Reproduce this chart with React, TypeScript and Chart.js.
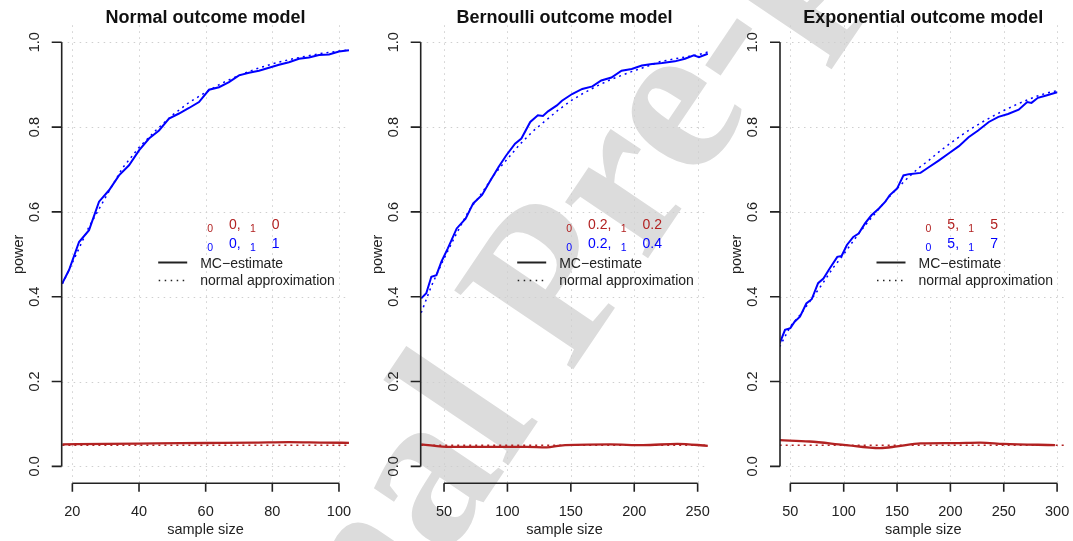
import React, { useEffect, useRef } from "react";
import { Chart, registerables } from "chart.js";
Chart.register(...registerables);

const W = 1073;
const H = 541;

// ---------- Normal outcome model ----------
const normalN = [17, 19, 22, 25, 28, 31, 34, 37, 40, 43, 46, 49, 52, 55, 58, 61, 64, 67, 70, 73, 76, 79, 82, 85, 88, 91, 94, 97, 100, 103];
const normalMC = [0.432, 0.463, 0.529, 0.557, 0.624, 0.651, 0.686, 0.71, 0.745, 0.773, 0.792, 0.82, 0.832, 0.845, 0.859, 0.888, 0.894, 0.906, 0.922, 0.928, 0.933, 0.94, 0.947, 0.953, 0.961, 0.964, 0.97, 0.971, 0.978, 0.981];
const normalApproxN = [17, 20, 25, 30, 35, 40, 45, 50, 55, 60, 65, 70, 75, 80, 85, 90, 95, 100, 103];
const normalApprox = [0.43, 0.48, 0.565, 0.635, 0.703, 0.752, 0.792, 0.828, 0.858, 0.882, 0.904, 0.922, 0.937, 0.949, 0.959, 0.967, 0.974, 0.979, 0.982];
const normalNullN = [17, 30, 45, 60, 75, 85, 95, 103];
const normalNullMC = [0.052, 0.053, 0.054, 0.055, 0.056, 0.057, 0.056, 0.0555];
const normalNullApproxN = [17, 103];
const normalNullApprox = [0.05, 0.05];
const normalTicks = [20, 40, 60, 80, 100];
const normalTickLabels = ["20", "40", "60", "80", "100"];

// ---------- Bernoulli outcome model ----------
const bernN = [32, 36, 40, 44, 48, 53, 60, 67, 73, 80, 86, 93, 99, 106, 111, 118, 124, 128, 132, 139, 143, 151, 159, 167, 174, 182, 190, 198, 206, 214, 222, 232, 240, 247, 251, 258];
const bernMC = [0.396, 0.408, 0.447, 0.451, 0.483, 0.514, 0.561, 0.584, 0.62, 0.64, 0.671, 0.706, 0.733, 0.761, 0.773, 0.812, 0.828, 0.826, 0.837, 0.851, 0.862, 0.878, 0.89, 0.896, 0.91, 0.917, 0.933, 0.937, 0.945, 0.949, 0.951, 0.955, 0.961, 0.969, 0.965, 0.973];
const bernApproxN = [32, 40, 50, 60, 70, 80, 90, 100, 110, 120, 130, 140, 150, 160, 170, 180, 190, 200, 210, 220, 230, 240, 250, 258];
const bernApprox = [0.362, 0.425, 0.49, 0.55, 0.605, 0.645, 0.69, 0.725, 0.76, 0.79, 0.815, 0.84, 0.862, 0.88, 0.896, 0.91, 0.922, 0.933, 0.943, 0.954, 0.96, 0.965, 0.97, 0.977];
const bernNullN = [32, 55, 80, 115, 131, 142, 181, 207, 234, 258];
const bernNullMC = [0.052, 0.046, 0.046, 0.046, 0.0445, 0.049, 0.0516, 0.05, 0.053, 0.0484];
const bernNullApproxN = [32, 258];
const bernNullApprox = [0.05, 0.05];
const bernTicks = [50, 100, 150, 200, 250];
const bernTickLabels = ["50", "100", "150", "200", "250"];

// ---------- Exponential outcome model ----------
const expN = [40, 45, 50, 54, 59, 65, 70, 76, 81, 87, 94, 98, 103, 109, 114, 120, 126, 133, 139, 143, 150, 156, 161, 172, 179, 189, 198, 208, 217, 226, 236, 245, 254, 264, 272, 276, 282, 289, 300];
const expMC = [0.29, 0.322, 0.326, 0.341, 0.353, 0.384, 0.394, 0.432, 0.443, 0.467, 0.494, 0.496, 0.522, 0.541, 0.549, 0.573, 0.592, 0.608, 0.624, 0.639, 0.655, 0.686, 0.689, 0.692, 0.704, 0.721, 0.737, 0.755, 0.776, 0.792, 0.812, 0.824, 0.831, 0.841, 0.859, 0.857, 0.869, 0.874, 0.882];
const expApproxN = [40, 50, 60, 70, 80, 90, 100, 110, 120, 130, 140, 150, 160, 170, 180, 190, 200, 210, 220, 230, 240, 250, 260, 270, 280, 290, 300];
const expApprox = [0.282, 0.33, 0.36, 0.395, 0.43, 0.468, 0.5, 0.535, 0.568, 0.598, 0.628, 0.655, 0.68, 0.703, 0.722, 0.743, 0.762, 0.78, 0.797, 0.812, 0.826, 0.839, 0.851, 0.862, 0.872, 0.88, 0.886];
const expNullN = [40, 68, 100, 134, 150, 172, 203, 228, 250, 298];
const expNullMC = [0.0618, 0.0586, 0.0508, 0.043, 0.047, 0.054, 0.0547, 0.056, 0.053, 0.05];
const expNullApproxN = [40, 312];
const expNullApprox = [0.05, 0.05];
const expTicks = [50, 100, 150, 200, 250, 300];
const expTickLabels = ["50", "100", "150", "200", "250", "300"];

// ---------- shared ----------
const yTicks = [0, 0.2, 0.4, 0.6, 0.8, 1.0];
const yTickLabels = ["0.0", "0.2", "0.4", "0.6", "0.8", "1.0"];
const titles = ["Normal outcome model", "Bernoulli outcome model", "Exponential outcome model"];
const legendNull = [["0,", "0"], ["0.2,", "0.2"], ["5,", "5"]];
const legendAlt = [["0,", "1"], ["0.2,", "0.4"], ["5,", "7"]];
const legendLines = ["MC\u2212estimate", "normal approximation"];
const watermarkText = "Journal Pre-proof";

const RED = "#B22222";
const BLUE = "#0000FF";
const INK = "#222222";
const FONT = '"Liberation Sans", Arial, sans-serif';

const PLOT_TOP = 25.3;
const PLOT_BOTTOM = 483.3;

const zip = (xs: number[], ys: number[]) => xs.map((x, i) => ({ x, y: ys[i] }));

const panels = [
  { left: 61.7, right: 349.3, xMin: 16.8, xMax: 103.1, ticks: normalTicks, tickLabels: normalTickLabels,
    mc: zip(normalN, normalMC), approx: zip(normalApproxN, normalApprox),
    nullMC: zip(normalNullN, normalNullMC), nullApprox: zip(normalNullApproxN, normalNullApprox) },
  { left: 420.7, right: 708.3, xMin: 31.6, xMax: 258.4, ticks: bernTicks, tickLabels: bernTickLabels,
    mc: zip(bernN, bernMC), approx: zip(bernApproxN, bernApprox),
    nullMC: zip(bernNullN, bernNullMC), nullApprox: zip(bernNullApproxN, bernNullApprox) },
  { left: 780, right: 1066.7, xMin: 40.3, xMax: 309, ticks: expTicks, tickLabels: expTickLabels,
    mc: zip(expN, expMC), approx: zip(expApproxN, expApprox),
    nullMC: zip(expNullN, expNullMC), nullApprox: zip(expNullApproxN, expNullApprox) },
];

function drawWatermark(ctx: CanvasRenderingContext2D) {
  ctx.save();
  const F = 218;
  ctx.font = `bold ${F}px "Liberation Serif", "DejaVu Serif", serif`;
  ctx.fillStyle = "#dcdcdc";
  ctx.textBaseline = "alphabetic";
  ctx.textAlign = "left";
  const off = ctx.measureText("Journal ").width + ctx.measureText("P").width / 2;
  ctx.translate(548, 278);
  ctx.rotate((-56 * Math.PI) / 180);
  ctx.fillText(watermarkText, -off, 0.33 * F);
  ctx.restore();
}

function makePlugin(idx: number) {
  const p = panels[idx];
  return {
    id: "rstyle" + idx,
    beforeDraw(chart: any) {
      if (idx === 0) drawWatermark(chart.ctx);
    },
    beforeDatasetsDraw(chart: any) {
      const ctx = chart.ctx as CanvasRenderingContext2D;
      const { left, right, top, bottom } = chart.chartArea;
      const xs = chart.scales.x;
      const ys = chart.scales.y;
      ctx.save();
      ctx.strokeStyle = "#cfcfcf";
      ctx.lineWidth = 1;
      ctx.setLineDash([1.5, 4.5]);
      p.ticks.forEach((v) => {
        const x = Math.round(xs.getPixelForValue(v)) + 0.5;
        ctx.beginPath();
        ctx.moveTo(x, top);
        ctx.lineTo(x, bottom);
        ctx.stroke();
      });
      yTicks.forEach((v) => {
        const y = Math.round(ys.getPixelForValue(v)) + 0.5;
        ctx.beginPath();
        ctx.moveTo(left, y);
        ctx.lineTo(right, y);
        ctx.stroke();
      });
      ctx.restore();
    },
    afterDraw(chart: any) {
      const ctx = chart.ctx as CanvasRenderingContext2D;
      const { left, right, top, bottom } = chart.chartArea;
      const xs = chart.scales.x;
      const ys = chart.scales.y;
      ctx.save();
      ctx.strokeStyle = INK;
      ctx.fillStyle = INK;
      ctx.lineWidth = 1.6;
      ctx.setLineDash([]);
      // y axis
      const y0 = ys.getPixelForValue(yTicks[0]);
      const y1 = ys.getPixelForValue(yTicks[yTicks.length - 1]);
      ctx.beginPath();
      ctx.moveTo(left, y0);
      ctx.lineTo(left, y1);
      yTicks.forEach((v) => {
        const y = ys.getPixelForValue(v);
        ctx.moveTo(left - 10, y);
        ctx.lineTo(left, y);
      });
      // x axis
      const xa = xs.getPixelForValue(p.ticks[0]);
      const xb = xs.getPixelForValue(p.ticks[p.ticks.length - 1]);
      ctx.moveTo(xa, bottom);
      ctx.lineTo(xb, bottom);
      p.ticks.forEach((v) => {
        const x = xs.getPixelForValue(v);
        ctx.moveTo(x, bottom);
        ctx.lineTo(x, bottom + 8.5);
      });
      ctx.stroke();

      // tick labels
      ctx.font = `14.5px ${FONT}`;
      ctx.textAlign = "center";
      ctx.textBaseline = "middle";
      p.ticks.forEach((v, i) => {
        ctx.fillText(p.tickLabels[i], xs.getPixelForValue(v), 511.5);
      });
      yTicks.forEach((v, i) => {
        ctx.save();
        ctx.translate(left - 27, ys.getPixelForValue(v));
        ctx.rotate(-Math.PI / 2);
        ctx.fillText(yTickLabels[i], 0, 0);
        ctx.restore();
      });
      // axis titles
      const cx = (left + right) / 2;
      ctx.fillText("sample size", cx, 529.5);
      ctx.save();
      ctx.translate(left - 43, (top + bottom) / 2);
      ctx.rotate(-Math.PI / 2);
      ctx.fillText("power", 0, 0);
      ctx.restore();
      // title
      ctx.fillStyle = "#111";
      ctx.font = `bold 18px ${FONT}`;
      ctx.textBaseline = "alphabetic";
      ctx.fillText(titles[idx], cx, 22.8);

      // legend
      const drawRow = (vals: string[], color: string, yMain: number) => {
        ctx.fillStyle = color;
        ctx.textAlign = "left";
        ctx.textBaseline = "middle";
        let x = left + 145.5;
        ctx.font = `10.5px ${FONT}`;
        ctx.fillText("0", x, yMain + 4);
        x += ctx.measureText("0").width + 16;
        ctx.font = `14px ${FONT}`;
        ctx.fillText(vals[0], x, yMain);
        x += ctx.measureText(vals[0]).width + 9.3;
        ctx.font = `10.5px ${FONT}`;
        ctx.fillText("1", x, yMain + 4);
        x += ctx.measureText("1").width + 16;
        ctx.font = `14px ${FONT}`;
        ctx.fillText(vals[1], x, yMain);
      };
      drawRow(legendNull[idx], RED, 225);
      drawRow(legendAlt[idx], BLUE, 244);

      ctx.strokeStyle = INK;
      ctx.lineWidth = 2;
      ctx.beginPath();
      ctx.moveTo(left + 96.5, 262.5);
      ctx.lineTo(left + 125.5, 262.5);
      ctx.stroke();
      ctx.lineWidth = 1.5;
      ctx.setLineDash([1.5, 4.5]);
      ctx.beginPath();
      ctx.moveTo(left + 97, 280.5);
      ctx.lineTo(left + 126, 280.5);
      ctx.stroke();
      ctx.setLineDash([]);
      ctx.fillStyle = INK;
      ctx.font = `14px ${FONT}`;
      ctx.textAlign = "left";
      ctx.textBaseline = "middle";
      ctx.fillText(legendLines[0], left + 138.5, 264);
      ctx.fillText(legendLines[1], left + 138.5, 281);
      ctx.restore();
    },
  };
}

function Panel({ idx }: { idx: number }) {
  const ref = useRef<HTMLCanvasElement>(null);
  useEffect(() => {
    const p = panels[idx];
    const chart = new Chart(ref.current as HTMLCanvasElement, {
      type: "line",
      data: {
        datasets: [
          { data: p.nullApprox, borderColor: RED, borderWidth: 1.5, borderDash: [2, 4], pointRadius: 0, tension: 0, clip: 0 } as any,
          { data: p.nullMC, borderColor: RED, borderWidth: 2.3, pointRadius: 0, cubicInterpolationMode: "monotone", clip: 0 } as any,
          { data: p.approx, borderColor: BLUE, borderWidth: 1.5, borderDash: [2, 4], pointRadius: 0, tension: 0, clip: 0 } as any,
          { data: p.mc, borderColor: BLUE, borderWidth: 2, pointRadius: 0, tension: 0, clip: 0 } as any,
        ],
      },
      options: {
        responsive: false,
        animation: false,
        devicePixelRatio: 1,
        events: [],
        layout: { padding: { left: p.left, right: W - p.right, top: PLOT_TOP, bottom: H - PLOT_BOTTOM } },
        plugins: { legend: { display: false }, tooltip: { enabled: false }, title: { display: false } },
        scales: {
          x: {
            type: "linear", min: p.xMin, max: p.xMax,
            grid: { display: false, drawTicks: false }, border: { display: false }, ticks: { display: false },
            afterBuildTicks: (s: any) => { s.ticks = p.ticks.map((v) => ({ value: v })); },
            afterFit: (s: any) => { s.height = 0; },
          },
          y: {
            type: "linear", min: -0.04, max: 1.04,
            grid: { display: false, drawTicks: false }, border: { display: false }, ticks: { display: false },
            afterBuildTicks: (s: any) => { s.ticks = yTicks.map((v) => ({ value: v })); },
            afterFit: (s: any) => { s.width = 0; },
          },
        },
      } as any,
      plugins: [makePlugin(idx)],
    });
    return () => chart.destroy();
  }, [idx]);
  return (
    <canvas
      ref={ref}
      width={W}
      height={H}
      style={{ position: "absolute", left: 0, top: 0, width: W, height: H }}
    />
  );
}

export default function App() {
  return (
    <div style={{ position: "fixed", left: 0, top: 0, width: W, height: H, background: "#fff", overflow: "hidden" }}>
      <Panel idx={0} />
      <Panel idx={1} />
      <Panel idx={2} />
    </div>
  );
}
